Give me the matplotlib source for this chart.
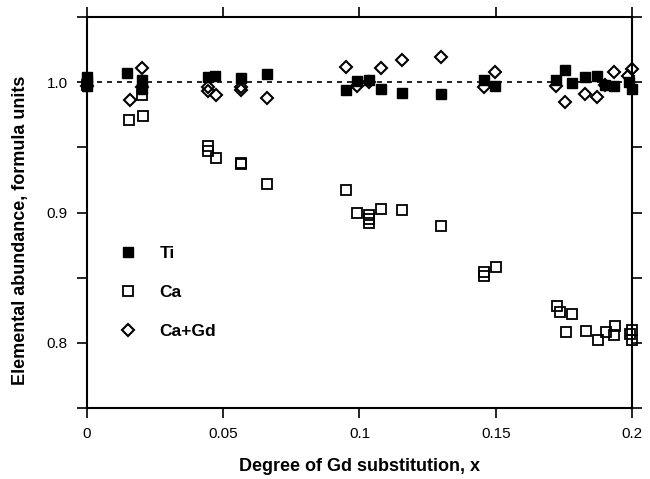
import matplotlib.pyplot as plt
import numpy as np

plt.rcParams['font.family'] = ['Liberation Sans', 'DejaVu Sans']

# Ti (filled squares)
tiX = [0.0, 0.0, 0.0, 0.0147, 0.0202, 0.0202, 0.0444, 0.047, 0.0565, 0.066,
       0.095, 0.099, 0.1035, 0.108, 0.1156, 0.130, 0.1457, 0.1497,
       0.172, 0.1754, 0.178, 0.1827, 0.187, 0.190, 0.1934, 0.199, 0.2]
tiY = [1.004, 1.0, 0.997, 1.007, 1.002, 0.995, 1.004, 1.005, 1.003, 1.006,
       0.994, 1.001, 1.002, 0.995, 0.992, 0.991, 1.002, 0.997,
       1.0015, 1.009, 0.999, 1.004, 1.005, 0.998, 0.997, 1.0, 0.995]

# Ca (open squares)
caX = [0.0, 0.0154, 0.0205, 0.0202, 0.0444, 0.0444, 0.0473, 0.0565, 0.0565, 0.066,
       0.095, 0.099, 0.1035, 0.1035, 0.1035, 0.108, 0.1156, 0.130,
       0.1457, 0.1457, 0.150, 0.1725, 0.1736, 0.178, 0.1758, 0.183, 0.1875,
       0.1905, 0.1938, 0.1934, 0.1993, 0.2, 0.2]
caY = [0.998, 0.971, 0.974, 0.99, 0.951, 0.947, 0.942, 0.938, 0.937, 0.922,
       0.917, 0.900, 0.898, 0.895, 0.892, 0.903, 0.902, 0.890,
       0.854, 0.851, 0.858, 0.828, 0.824, 0.822, 0.808, 0.809, 0.802,
       0.808, 0.813, 0.806, 0.807, 0.810, 0.802]

# Ca+Gd (open diamonds)
cagdX = [0.0, 0.0158, 0.0202, 0.0202, 0.0444, 0.0444, 0.0473, 0.0565, 0.0565, 0.066,
         0.095, 0.099, 0.1035, 0.108, 0.1156, 0.130, 0.1457, 0.1497,
         0.172, 0.1754, 0.1827, 0.187, 0.190, 0.1934, 0.1985, 0.2]
cagdY = [0.997, 0.986, 1.011, 0.996, 0.996, 0.993, 0.990, 0.996, 0.994, 0.988,
         1.012, 0.997, 1.0, 1.011, 1.017, 1.019, 0.996, 1.008,
         0.997, 0.985, 0.991, 0.989, 0.998, 1.008, 1.005, 1.01]

fig = plt.figure(figsize=(6.5, 4.79), dpi=100)
ax = fig.add_axes([0.1338, 0.1482, 0.8385, 0.8163])

ax.axhline(1.0, color='black', lw=1.2, ls=(0, (3, 3)), zorder=1)

ax.plot(tiX, tiY, 's', ms=7.3, mfc='black', mec='black', mew=1.0, ls='none',
        label='Ti', clip_on=False, zorder=3)
ax.plot(caX, caY, 's', ms=7.3, mfc='none', mec='black', mew=1.3, ls='none',
        label='Ca', clip_on=False, zorder=3)
ax.plot(cagdX, cagdY, 'D', ms=6.5, mfc='none', mec='black', mew=1.5, ls='none',
        label='Ca+Gd', clip_on=False, zorder=3)

ax.set_xlim(0, 0.2)
ax.set_ylim(0.75, 1.05)

ax.set_xticks([0, 0.05, 0.1, 0.15, 0.2])
ax.set_xticklabels(['0', '0.05', '0.1', '0.15', '0.2'])
ax.set_yticks([0.75, 0.8, 0.85, 0.9, 0.95, 1.0, 1.05])
ax.set_yticklabels(['', '0.8', '', '0.9', '', '1.0', ''])

ax.tick_params(direction='out', length=7, width=1.2, labelsize=11,
               top=True, right=True, pad=7)
for s in ax.spines.values():
    s.set_linewidth(1.5)

ax.set_xlabel('Degree of Gd substitution, x', fontsize=13, fontweight='bold', labelpad=12)
ax.set_ylabel('Elemental abundance, formula units', fontsize=13, fontweight='bold')
ax.yaxis.set_label_coords(-0.107, 0.455)

leg = ax.legend(loc='upper left', bbox_to_anchor=(0.031, 0.455), frameon=False,
                handletextpad=1.3, labelspacing=1.38, prop={'weight': 'bold', 'size': 12.5},
                handlelength=1.0)

fig.savefig('out.png', dpi=100)
